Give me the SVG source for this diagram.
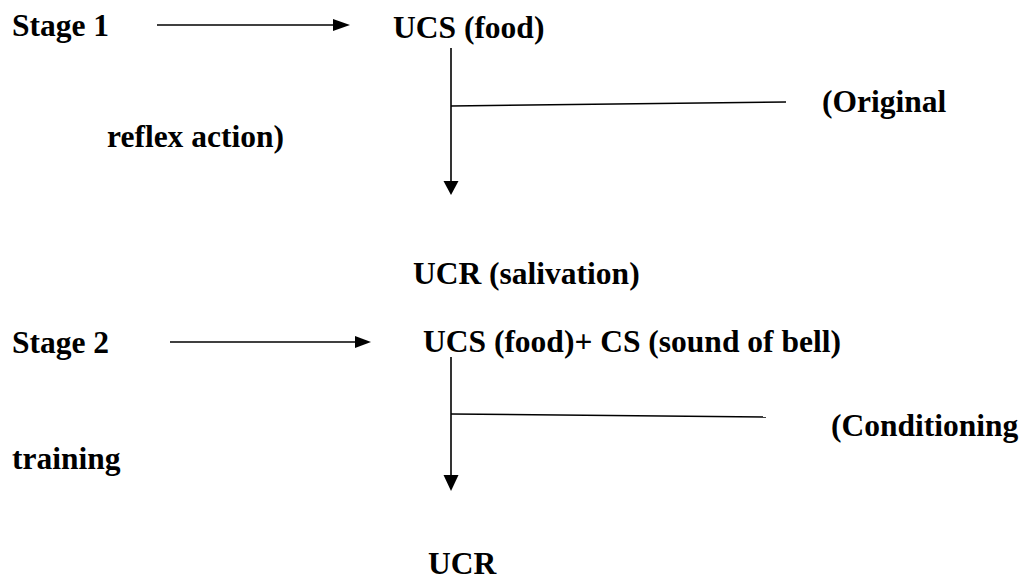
<svg xmlns="http://www.w3.org/2000/svg" width="1029" height="582" viewBox="0 0 1029 582">
<style>
text{font-family:'Liberation Serif','DejaVu Serif',serif;font-weight:700;font-size:31.5px;fill:#000}
.ln{stroke:#000;stroke-width:1.6;fill:none}
</style>
<rect width="1029" height="582" fill="#fff"/>
<g id="stage1"><text x="12" y="36">Stage 1</text></g>
<g id="ucs1"><text x="393" y="38">UCS (food)</text></g>
<g id="original"><text x="822" y="112">(Original</text></g>
<g id="reflex"><text x="107" y="147">reflex action)</text></g>
<g id="ucr1"><text x="413" y="284">UCR (salivation)</text></g>
<g id="stage2"><text x="12" y="353">Stage 2</text></g>
<g id="ucs2"><text x="423" y="352">UCS (food)+ CS (sound of bell)</text></g>
<g id="conditioning"><text x="831" y="436">(Conditioning</text></g>
<g id="training"><text x="12" y="469">training</text></g>
<g id="ucr2"><text x="428" y="574">UCR</text></g>
<g id="connectors">
<line class="ln" x1="157" y1="25" x2="334" y2="25"/>
<polygon points="333,19 350,25 333,31" fill="#000"/>
<line class="ln" x1="451" y1="48" x2="451" y2="182"/>
<polygon points="443.5,181 458.5,181 451,195" fill="#000"/>
<line class="ln" x1="451" y1="106" x2="786" y2="102"/>
<line class="ln" x1="170" y1="342" x2="356" y2="342"/>
<polygon points="355,336 371,342 355,348" fill="#000"/>
<line class="ln" x1="451" y1="357" x2="451" y2="476"/>
<polygon points="443.5,475 458.5,475 451,491" fill="#000"/>
<line class="ln" x1="451" y1="414" x2="766" y2="417"/>
</g>
</svg>
